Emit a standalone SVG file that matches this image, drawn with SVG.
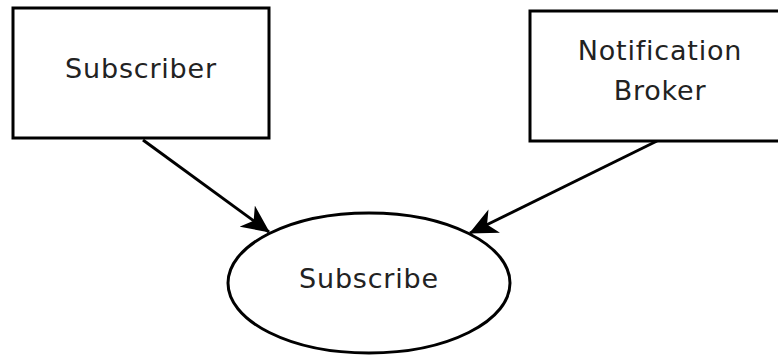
<svg xmlns="http://www.w3.org/2000/svg" width="778" height="356" viewBox="0 0 778 356">
<defs>
<style>
.box{fill:#fff;stroke:#000;stroke-width:3}
.lbl{font-family:"DejaVu Sans",sans-serif;font-size:27px;letter-spacing:0.8px;fill:#222;text-anchor:middle}
.edge{stroke:#000;stroke-width:3;fill:none}
</style>
<marker id="arr" viewBox="0 0 28 26" refX="27" refY="13" markerWidth="28" markerHeight="26" markerUnits="userSpaceOnUse" orient="auto">
<path d="M0,0 L28,13 L0,26 L8,13 Z" fill="#000"/>
</marker>
</defs>
<rect width="778" height="356" fill="#fff"/>
<g id="connectors">
<line class="edge" x1="143" y1="140" x2="269" y2="232" marker-end="url(#arr)"/>
<line class="edge" x1="657" y1="141" x2="470" y2="233" marker-end="url(#arr)"/>
</g>
<g id="subscriber">
<rect class="box" x="13" y="8" width="256" height="130"/>
<text class="lbl" x="141" y="78">Subscriber</text>
</g>
<g id="broker">
<rect class="box" x="530" y="11" width="258" height="130"/>
<text class="lbl" x="660" y="60">Notification</text>
<text class="lbl" x="660" y="100">Broker</text>
</g>
<g id="subscribe">
<ellipse class="box" cx="369" cy="283" rx="141" ry="70"/>
<text class="lbl" x="369" y="288">Subscribe</text>
</g>
</svg>
